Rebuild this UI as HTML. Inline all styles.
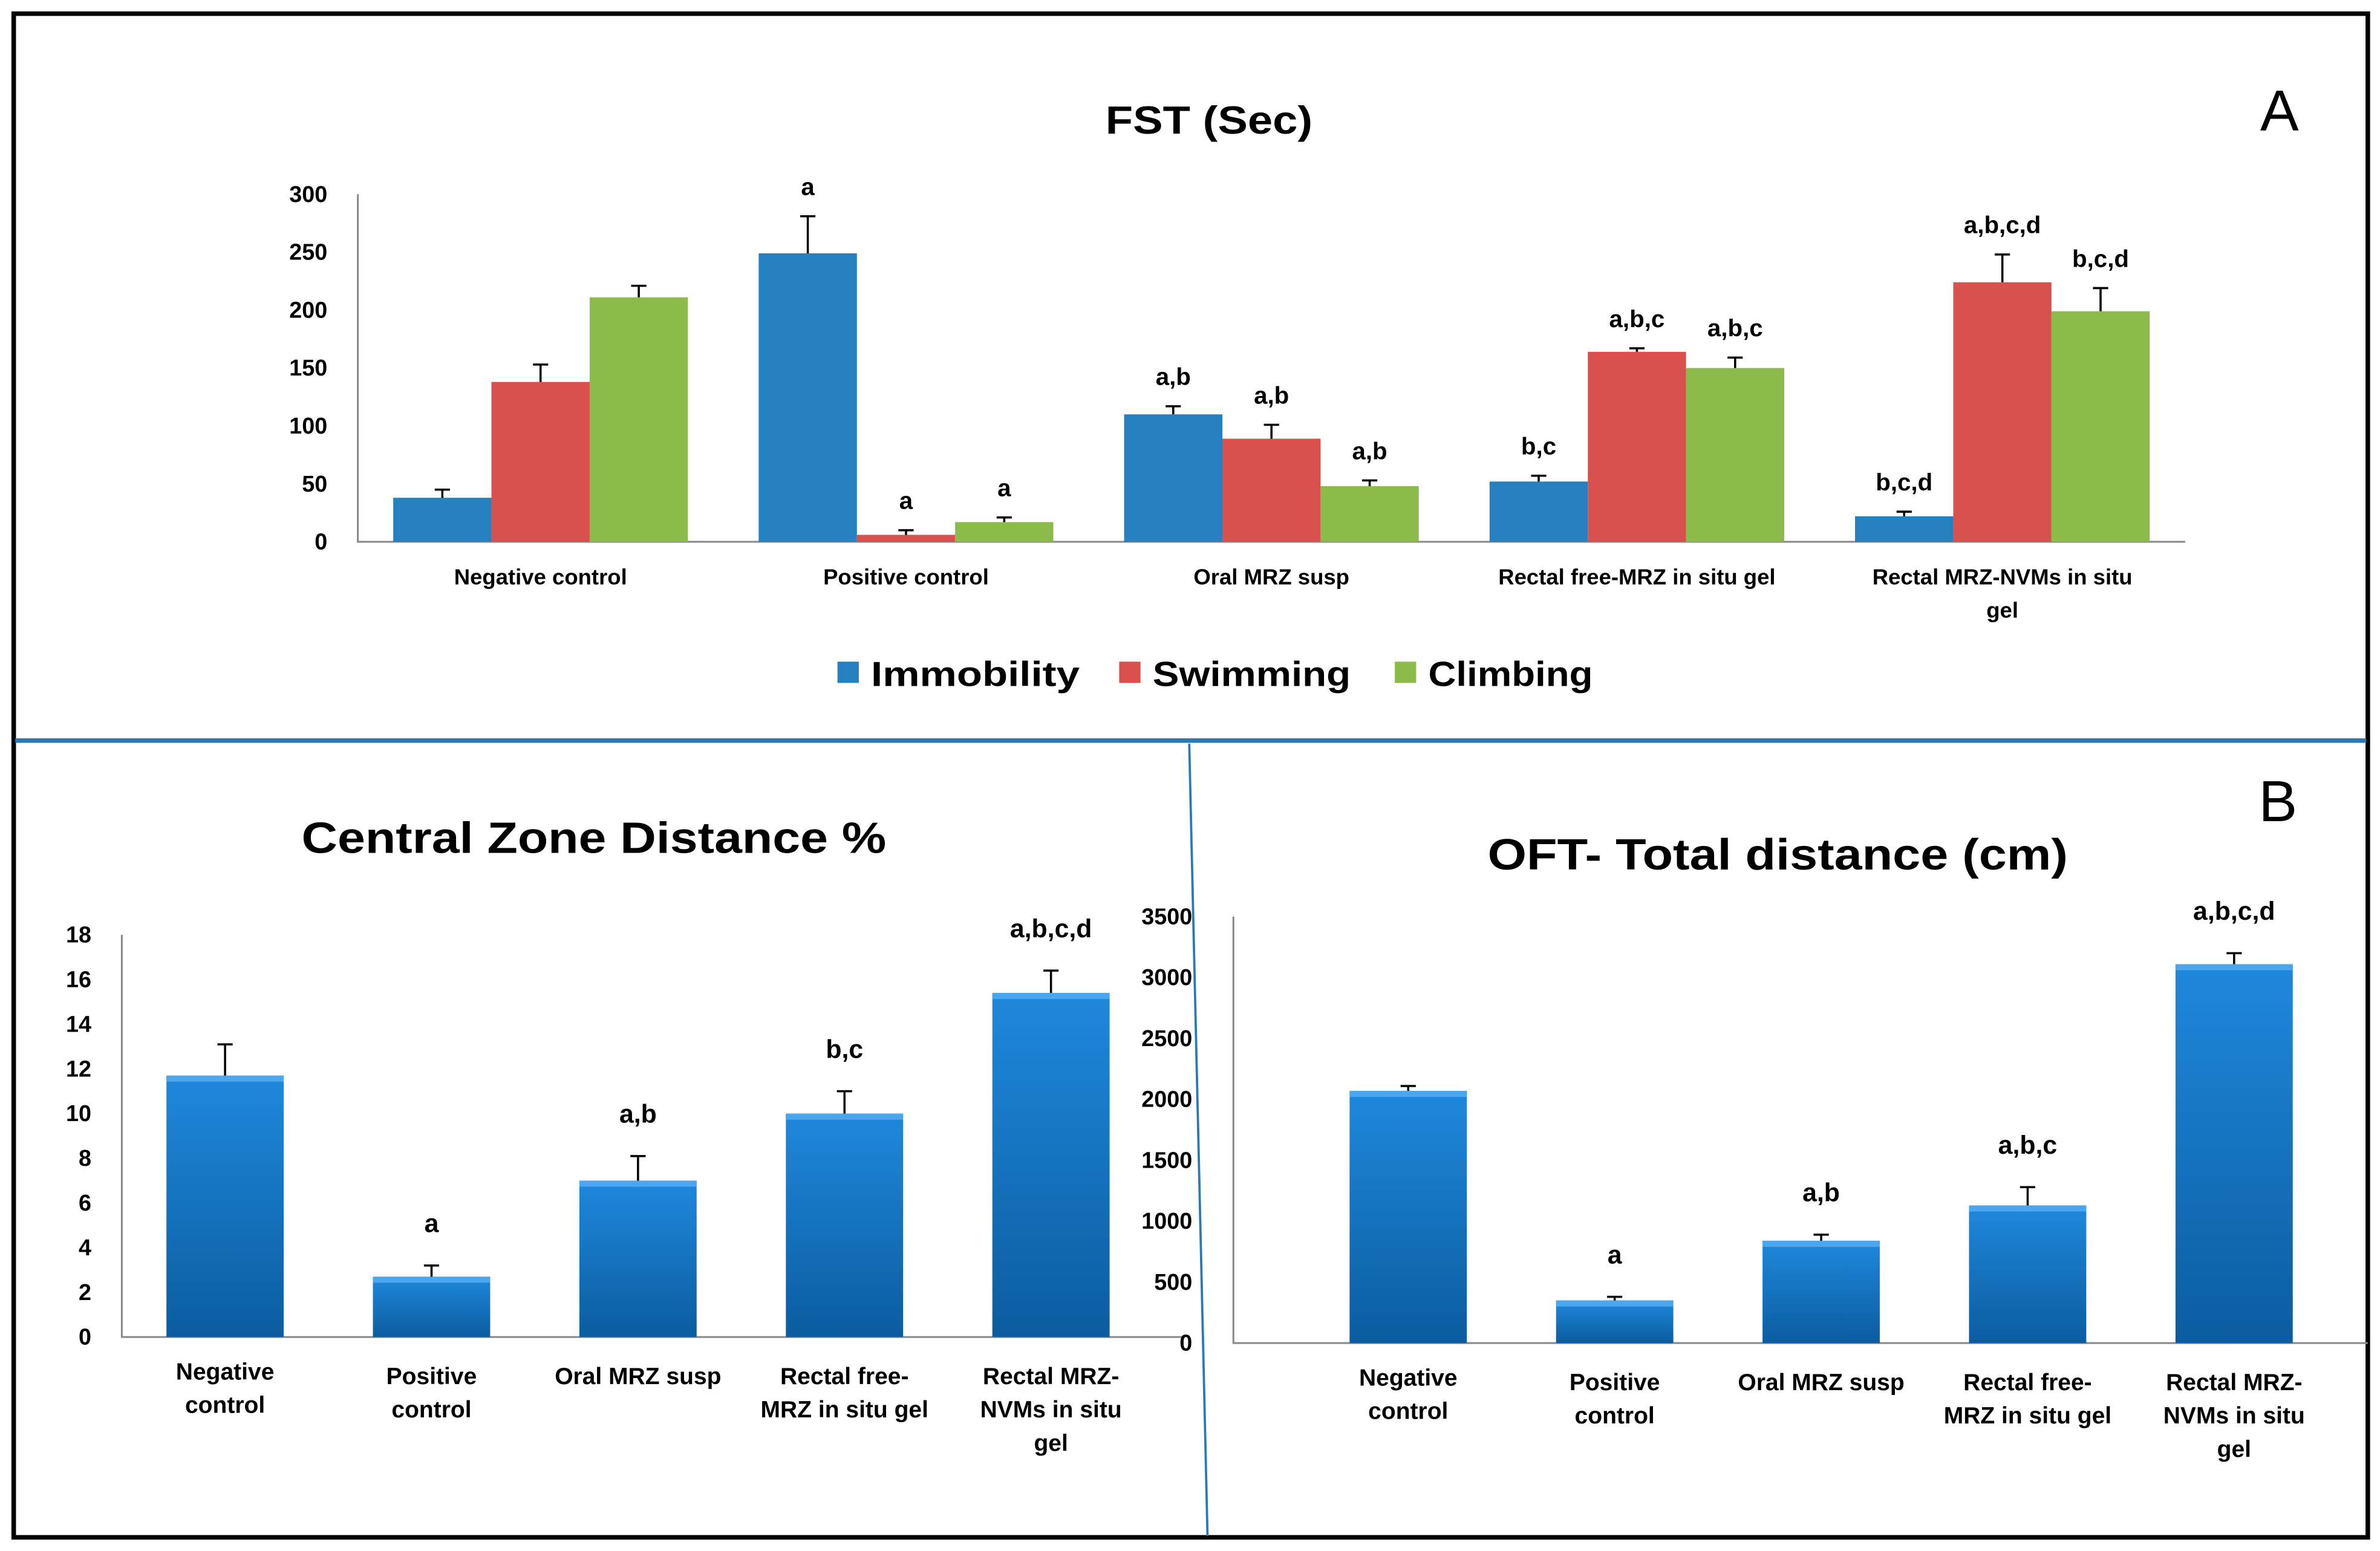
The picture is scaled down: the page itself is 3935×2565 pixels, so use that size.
<!DOCTYPE html>
<html><head><meta charset="utf-8">
<style>
html,body{margin:0;padding:0;background:#fff;}
svg{display:block;font-family:"Liberation Sans",sans-serif;font-weight:bold;}
</style></head>
<body>
<svg id="fig" width="3935" height="2565" viewBox="0 0 1563 1022" preserveAspectRatio="none" xmlns="http://www.w3.org/2000/svg">
<defs>
<linearGradient id="bgrad" x1="0" y1="0" x2="0" y2="1">
<stop offset="0" stop-color="#1f88dc"/><stop offset="1" stop-color="#0b5c9f"/>
</linearGradient>
</defs>
<rect x="9" y="9" width="1546" height="1004" fill="#fff" stroke="#000" stroke-width="3"/>
<line x1="10" y1="488" x2="1554" y2="488" stroke="#2a7ab8" stroke-width="3"/>
<line x1="781" y1="490" x2="793" y2="1012" stroke="#2a7ab8" stroke-width="1.5"/>
<text x="1497" y="86" font-size="38" font-weight="normal" text-anchor="middle">A</text>
<text x="1496" y="541" font-size="38" font-weight="normal" text-anchor="middle">B</text>
<text x="726" y="88" font-size="26" textLength="136" lengthAdjust="spacingAndGlyphs">FST (Sec)</text>
<text x="198" y="562" font-size="29" textLength="384" lengthAdjust="spacingAndGlyphs">Central Zone Distance %</text>
<text x="977" y="573" font-size="29" textLength="381" lengthAdjust="spacingAndGlyphs">OFT- Total distance (cm)</text>
<g id="g"></g>
</svg>
<script>
// ---- Chart A data (FST)
const fstCategories = ["Negative control","Positive control","Oral MRZ susp","Rectal free-MRZ in situ gel","Rectal MRZ-NVMs in situ|gel"];
const fstSeries = ["Immobility","Swimming","Climbing"];
const fstImmobility = [38,249,110,52,22];
const fstImmobilityErr = [45,281,117,57,26];
const fstSwimming = [138,6,89,164,224];
const fstSwimmingErr = [153,10,101,167,248];
const fstClimbing = [211,17,48,150,199];
const fstClimbingErr = [221,21,53,159,219];
const fstImmobilityLbl = ["","a","a,b","b,c","b,c,d"];
const fstSwimmingLbl = ["","a","a,b","a,b,c","a,b,c,d"];
const fstClimbingLbl = ["","a","a,b","a,b,c","b,c,d"];
const fstTicks = [0,50,100,150,200,250,300];
// ---- Chart B left (Central zone)
const czCategories = ["Negative|control","Positive|control","Oral MRZ susp","Rectal free-|MRZ in situ gel","Rectal MRZ-|NVMs in situ|gel"];
const czValues = [11.7,2.7,7.0,10.0,15.4];
const czErr = [13.1,3.2,8.1,11.0,16.4];
const czLbl = ["","a","a,b","b,c","a,b,c,d"];
const czTicks = [0,2,4,6,8,10,12,14,16,18];
// ---- Chart B right (OFT)
const oftCategories = ["Negative|control","Positive|control","Oral MRZ susp","Rectal free-|MRZ in situ gel","Rectal MRZ-|NVMs in situ|gel"];
const oftValues = [2070,350,840,1130,3110];
const oftErr = [2110,380,890,1280,3200];
const oftLbl = ["","a","a,b","a,b,c","a,b,c,d"];
const oftTicks = [0,500,1000,1500,2000,2500,3000,3500];

const NS="http://www.w3.org/2000/svg";
const G=document.getElementById('g');
function mk(tag,attrs,parent){const e=document.createElementNS(NS,tag);for(const k in attrs)e.setAttribute(k,attrs[k]);(parent||G).appendChild(e);return e;}
function txt(x,y,s,size,anchor,parent){const t=mk('text',{x:x,y:y,'font-size':size,'text-anchor':anchor||'middle'},parent);t.textContent=s;return t;}
function errbar(x,y1,y2,name){
  const l=mk('path',{d:`M${x},${y1}V${y2}M${x-5},${y2}H${x+5}`,stroke:'#000','stroke-width':1.4,fill:'none'});
  
  
}

// ===== Chart A
(function(){
  const x0=235,x1=1435,y0=357,ytop=128,max=300;
  const y=v=>y0-(v/max)*(y0-ytop);
  const band=(x1-x0)/fstCategories.length;
  const cx=i=>x0+band*(i+0.5);
  const bw=64.5;
  const ax=mk('path',{d:`M${x0},${ytop}V${y0}H${x1}`,stroke:'#888','stroke-width':1.2,fill:'none'});
  
  
  fstTicks.forEach(v=>{const t=txt(215,y(v)+5,String(v),15,'end');
    
    });
  const series=[[fstImmobility,fstImmobilityErr,fstImmobilityLbl,'#2580c0'],[fstSwimming,fstSwimmingErr,fstSwimmingLbl,'#d9504d'],[fstClimbing,fstClimbingErr,fstClimbingLbl,'#8cbb4c']];
  fstCategories.forEach((c,i)=>{
    series.forEach((s,j)=>{
      const bx=cx(i)-1.5*bw+j*bw;
      const r=mk('rect',{x:bx,y:y(s[0][i]),width:bw,height:y0-y(s[0][i]),fill:s[3]});
      
      
      errbar(bx+bw/2,y(s[0][i]),y(s[1][i]),'fst-error-bar');
      if(s[2][i]){const t=txt(bx+bw/2,y(s[1][i])-14,s[2][i],16,'middle');
        
        }
    });
    const parts=c.split('|');
    parts.forEach((p,k)=>{const t=txt(cx(i),385+k*22,p,14.5,'middle');
      
      });
  });
  const leg=[[550,'#2580c0','Immobility',137],[735,'#d9504d','Swimming',130],[916,'#8cbb4c','Climbing',108]];
  leg.forEach(l=>{
    const r=mk('rect',{x:l[0],y:436,width:14,height:14,fill:l[1]});
    
    
    const t=txt(l[0]+22,452,l[2],23,'start');
    t.setAttribute('textLength',l[3]);
    t.setAttribute('lengthAdjust','spacingAndGlyphs');
    
    
  });
})();

function chartB(prefix,cats,vals,errs,lbls,ticks,axX,bandStart,x1,y0,ytop,max,tickX){
  const y=v=>y0-(v/max)*(y0-ytop);
  const band=(x1-bandStart)/cats.length;
  const cx=i=>bandStart+band*(i+0.5);
  const bw=77;
  const ax=mk('path',{d:`M${axX},${ytop}V${y0}H${x1+20}`,stroke:'#888','stroke-width':1.2,fill:'none'});
  
  
  ticks.forEach(v=>{const t=txt(tickX,y(v)+5,String(v),15,'end');
    
    });
  cats.forEach((c,i)=>{
    const bx=cx(i)-bw/2, by=y(vals[i]);
    const r=mk('rect',{x:bx,y:by,width:bw,height:y0-by,fill:'url(#bgrad)'});
    
    
    const h=mk('rect',{x:bx,y:by,width:bw,height:4,fill:'#4aa6ee'});
    
    
    errbar(cx(i),by,y(errs[i]),prefix+'-error-bar');
    if(lbls[i]){const t=txt(cx(i),y(errs[i])-22,lbls[i],17,'middle');
      
      }
    const parts=c.split('|');
    const off=(i===0)?0:3;
    parts.forEach((p,k)=>{const t=txt(cx(i),y0+28+off+k*22,p,15.5,'middle');
      
      });
  });
}
chartB('czd',czCategories,czValues,czErr,czLbl,czTicks,80,80,758,881,616,18,60);
chartB('oft',oftCategories,oftValues,oftErr,oftLbl,oftTicks,810,857,1535,885,604,3500,783);
</script>
</body></html>
